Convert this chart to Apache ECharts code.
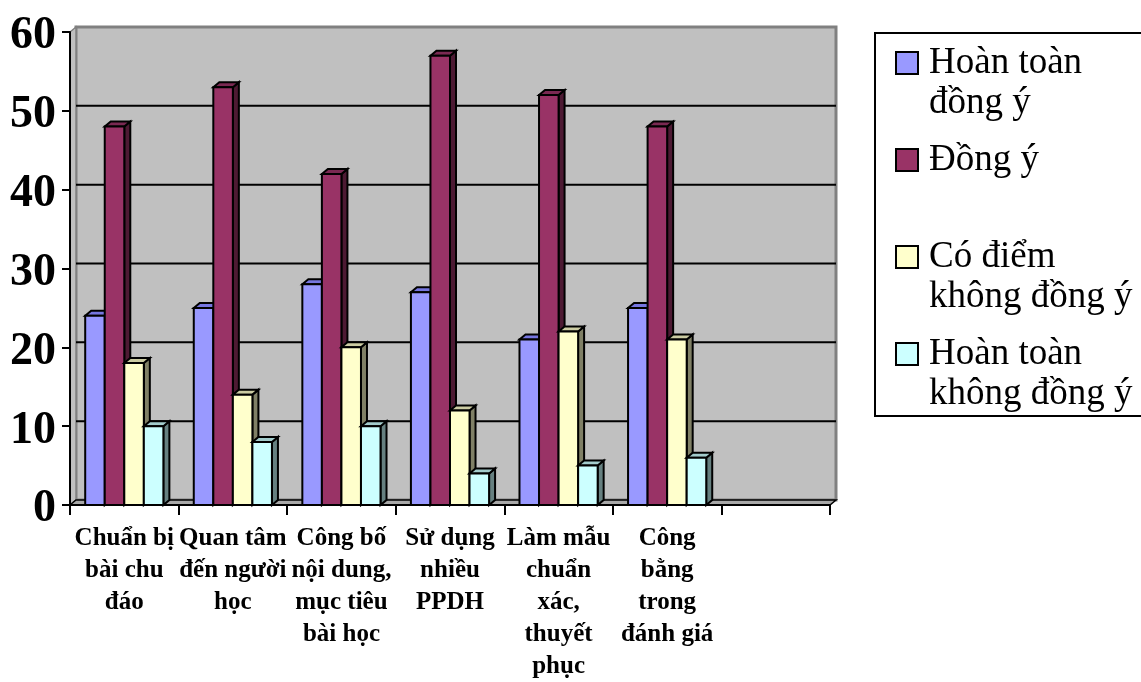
<!DOCTYPE html>
<html>
<head>
<meta charset="utf-8">
<script src="https://cdn.jsdelivr.net/npm/echarts@6/dist/echarts.min.js"></script>
<style>
  html, body { margin: 0; padding: 0; background: #fff; }
  #chart { width: 1141px; height: 682px; }
</style>
</head>
<body>
<div id="chart"></div>
<script>
// Category labels (line breaks as printed under the axis); the last slot is empty
const categories = [
  'Chuẩn bị\nbài chu\nđáo',
  'Quan tâm\nđến người\nhọc',
  'Công bố\nnội dung,\nmục tiêu\nbài học',
  'Sử dụng\nnhiều\nPPDH',
  'Làm mẫu\nchuẩn\nxác,\nthuyết\nphục',
  'Công\nbằng\ntrong\nđánh giá',
  ''
];

const seriesNames = ['Hoàn toàn đồng ý', 'Đồng ý', 'Có điểm không đồng ý', 'Hoàn toàn không đồng ý'];
const legendLabels = ['Hoàn toàn\nđồng ý', 'Đồng ý\n ', 'Có điểm\nkhông đồng ý', 'Hoàn toàn\nkhông đồng ý'];

const hoanToanDongY = [24, 25, 28, 27, 21, 25];
const dongY = [48, 53, 42, 57, 52, 48];
const coDiemKhongDongY = [18, 14, 20, 12, 22, 21];
const hoanToanKhongDongY = [10, 8, 10, 4, 5, 6];

const yTicks = [0, 10, 20, 30, 40, 50, 60];

// front / top / side face colours of the 3D columns
const palette = [
  { front: '#9999FF', top: '#7676E0', side: '#4C4C99' },
  { front: '#993366', top: '#7A2952', side: '#4D1A33' },
  { front: '#FFFFCC', top: '#CCCCA3', side: '#808066' },
  { front: '#CCFFFF', top: '#A3CCCC', side: '#668080' }
];

const DEPTH_X = 6, DEPTH_Y = 5;   // perspective offset of the 3D look
const BAR_RATIO = 0.18;           // column width as share of a category band
const SERIF = "'Liberation Serif', 'Times New Roman', serif";

const allValues = [hoanToanDongY, dongY, coDiemKhongDongY, hoanToanKhongDongY];

// back wall, left wall, floor and gridlines of the 3D plot box
function renderFrame(params, api) {
  const cs = params.coordSys;
  const x0 = cs.x, x1 = cs.x + cs.width;
  const yTop = api.coord([0, yTicks[yTicks.length - 1]])[1];
  const yBot = api.coord([0, yTicks[0]])[1];
  const children = [
    { type: 'rect', shape: { x: x0 + DEPTH_X, y: yTop - DEPTH_Y, width: x1 - x0, height: yBot - yTop },
      style: { fill: '#C0C0C0', stroke: '#808080', lineWidth: 3 } },
    { type: 'polygon', shape: { points: [[x0, yTop], [x0 + DEPTH_X, yTop - DEPTH_Y], [x0 + DEPTH_X, yBot - DEPTH_Y], [x0, yBot]] },
      style: { fill: '#C0C0C0', stroke: '#808080', lineWidth: 1.5 } },
    { type: 'polygon', shape: { points: [[x0, yBot], [x0 + DEPTH_X, yBot - DEPTH_Y], [x1 + DEPTH_X, yBot - DEPTH_Y], [x1, yBot]] },
      style: { fill: '#A8A8A8', stroke: '#000', lineWidth: 1.5 } }
  ];
  yTicks.slice(1, -1).forEach(function (v) {
    const y = api.coord([0, v])[1] - DEPTH_Y;
    children.push({ type: 'line', shape: { x1: x0 + DEPTH_X, y1: y, x2: x1 + DEPTH_X, y2: y },
      style: { stroke: '#000', lineWidth: 2 } });
  });
  return { type: 'group', children: children };
}

function makeBarRenderer(k) {
  const c = palette[k];
  return function (params, api) {
    const ci = api.value(0);
    const top = api.coord([ci, api.value(1)]);
    const base = api.coord([ci, 0]);
    const band = api.size([1, 0])[0];
    const w = band * BAR_RATIO;
    const x = top[0] - 2 * w + k * w;
    const y = top[1], yb = base[1];
    const stroke = { stroke: '#000', lineWidth: 2, lineJoin: 'miter' };
    return {
      type: 'group',
      children: [
        { type: 'polygon', shape: { points: [[x + w, y], [x + w + DEPTH_X, y - DEPTH_Y], [x + w + DEPTH_X, yb - DEPTH_Y], [x + w, yb]] },
          style: Object.assign({ fill: c.side }, stroke) },
        { type: 'polygon', shape: { points: [[x, y], [x + DEPTH_X, y - DEPTH_Y], [x + w + DEPTH_X, y - DEPTH_Y], [x + w, y]] },
          style: Object.assign({ fill: c.top }, stroke) },
        { type: 'rect', shape: { x: x, y: y, width: w, height: yb - y },
          style: Object.assign({ fill: c.front }, stroke) }
      ]
    };
  };
}

const barSeries = allValues.map(function (vals, k) {
  return {
    name: seriesNames[k],
    type: 'custom',
    z: 2,
    itemStyle: { color: palette[k].front },
    encode: { x: 0, y: 1 },
    data: vals.map(function (v, i) { return [i, v]; }),
    renderItem: makeBarRenderer(k)
  };
});

const chart = echarts.init(document.getElementById('chart'), null, { renderer: 'canvas' });
chart.setOption({
  animation: false,
  backgroundColor: '#fff',
  grid: { left: 70, top: 32, width: 760, height: 473, outerBoundsMode: 'none', containLabel: false },
  xAxis: {
    type: 'category',
    data: categories,
    z: 3,
    axisLine: { show: true, lineStyle: { color: '#000', width: 2 } },
    axisTick: { show: true, length: 10, lineStyle: { color: '#000', width: 2 } },
    axisLabel: {
      interval: 0, margin: 18, color: '#000',
      fontFamily: SERIF, fontWeight: 'bold', fontSize: 25, lineHeight: 32
    },
    splitLine: { show: false }
  },
  yAxis: {
    type: 'value',
    min: 0, max: 60, interval: 10,
    z: 3,
    axisLine: { show: true, lineStyle: { color: '#000', width: 2 } },
    axisTick: { show: true, length: 8, lineStyle: { color: '#000', width: 2 } },
    axisLabel: {
      margin: 14,
      formatter: function (v) { return '{n|' + v + '}'; },
      rich: { n: { color: '#000', fontFamily: SERIF, fontWeight: 'bold', fontSize: 46, padding: [9, 0, 0, 0] } }
    },
    splitLine: { show: false }
  },
  legend: {
    orient: 'vertical',
    left: 875, top: 33,
    width: 330,
    padding: [9, 20, 1, 20],
    itemGap: 15,
    itemWidth: 28, itemHeight: 80,
    symbolKeepAspect: false,
    borderColor: '#000', borderWidth: 2,
    backgroundColor: '#fff',
    itemStyle: { borderColor: '#000', borderWidth: 2 },
    textStyle: { fontFamily: SERIF, fontSize: 37, lineHeight: 40, color: '#000' },
    formatter: function (name) { return legendLabels[seriesNames.indexOf(name)]; },
    data: seriesNames.map(function (n) {
      return { name: n, icon: 'path://M0,0M28,80M0,9h22v22h-22z' };
    })
  },
  series: [{
    name: 'plotFrame',
    type: 'custom',
    z: 1,
    silent: true,
    data: [[0, 0]],
    renderItem: renderFrame
  }].concat(barSeries)
});
</script>
</body>
</html>
